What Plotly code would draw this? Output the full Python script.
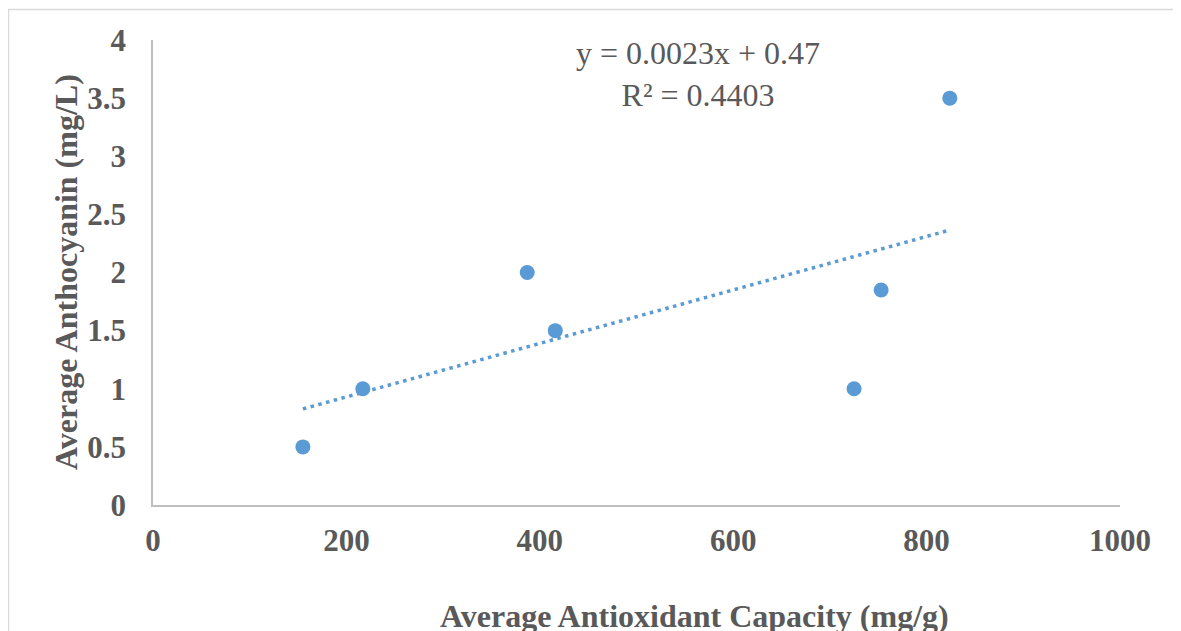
import plotly.graph_objects as go

# Data
antioxidant = [155, 217, 387, 416, 725, 753, 824]
anthocyanin = [0.5, 1.0, 2.0, 1.5, 1.0, 1.85, 3.5]
slope = 0.0023
intercept = 0.47
r_squared = 0.4403
x_ticks = [0, 200, 400, 600, 800, 1000]
y_ticks = [0, 0.5, 1, 1.5, 2, 2.5, 3, 3.5, 4]
y_tick_labels = ["0", "0.5", "1", "1.5", "2", "2.5", "3", "3.5", "4"]

W, H = 1181, 631
OFF = 8  # page body margin offset
L, R, T, B = 153, 1120, 40, 505  # plot area in page pixels

def px(x):
    return (x - L) / (R - L)

def py(y):
    return (B - y) / (B - T)

blue = "#5B9BD5"
grey = "#595959"
font_fam = "Liberation Serif, Times New Roman, serif"

trend_x = [min(antioxidant), max(antioxidant)]
trend_y = [slope * v + intercept for v in trend_x]

fig = go.Figure()
fig.add_trace(go.Scatter(x=trend_x, y=trend_y, mode="lines",
                         line=dict(color=blue, width=3.5, dash="3.5px,4.5px"),
                         hoverinfo="skip", showlegend=False))
fig.add_trace(go.Scatter(x=antioxidant, y=anthocyanin, mode="markers",
                         marker=dict(color=blue, size=15),
                         showlegend=False))

axis_common = dict(showgrid=False, zeroline=False, showline=True,
                   linecolor="#BFBFBF", linewidth=1.5, ticks="",
                   tickfont=dict(family=font_fam, size=31, color=grey, weight="bold"))

fig.update_xaxes(range=[0, 1000], tickvals=x_ticks, ticklabelstandoff=7, **axis_common)
fig.update_yaxes(range=[0, 4], tickvals=y_ticks, ticktext=y_tick_labels,
                 ticklabelstandoff=19, **axis_common)

fig.update_layout(
    width=W, height=H,
    margin=dict(l=L - OFF, r=W - R + OFF, t=T - OFF, b=H - B + OFF),
    paper_bgcolor="white", plot_bgcolor="white",
    annotations=[
        dict(text=f"y = {slope}x + {intercept}<br>R² = {r_squared}",
             xref="paper", yref="paper", x=px(698), y=py(74),
             xanchor="center", yanchor="middle",
             showarrow=False, align="center",
             font=dict(family=font_fam, size=32, color=grey)),
        dict(text="Average Antioxidant Capacity (mg/g)",
             xref="paper", yref="paper", x=px(694), y=py(616),
             xanchor="center", yanchor="middle",
             showarrow=False,
             font=dict(family=font_fam, size=32, color=grey, weight="bold")),
        dict(text="Average Anthocyanin (mg/L)",
             xref="paper", yref="paper", x=px(66), y=py(272),
             xanchor="center", yanchor="middle",
             showarrow=False, textangle=-90,
             font=dict(family=font_fam, size=32, color=grey, weight="bold")),
    ],
    shapes=[
        dict(type="line", xref="paper", yref="paper",
             x0=px(8), x1=px(1200), y0=py(9.5), y1=py(9.5),
             line=dict(color="#D9D9D9", width=1.5)),
        dict(type="line", xref="paper", yref="paper",
             x0=px(8.5), x1=px(8.5), y0=py(9), y1=py(650),
             line=dict(color="#D9D9D9", width=1.5)),
    ],
)

fig.write_html("out.html")
